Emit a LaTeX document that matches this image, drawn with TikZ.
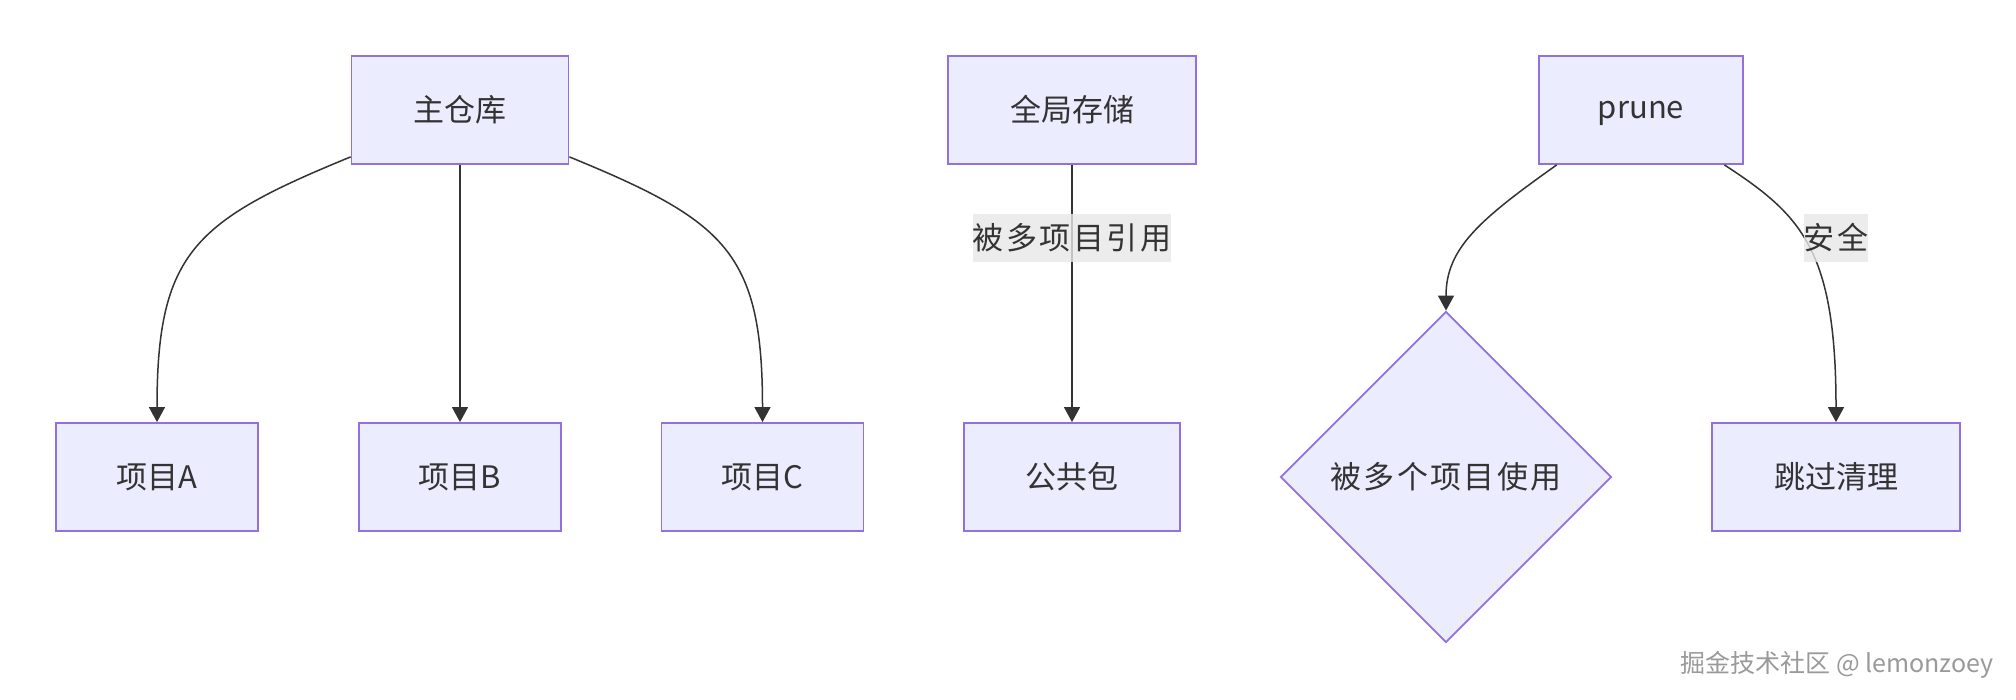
\documentclass[tikz,border=0pt]{standalone}
\usepackage{fontspec}
\setmainfont{Noto Sans CJK SC}
\newfontfamily\widecjk[LetterSpace=8]{Noto Sans CJK SC}
\usetikzlibrary{arrows.meta,shapes.geometric,calc}
\definecolor{nodefill}{HTML}{ECECFF}
\definecolor{nodeline}{HTML}{9370DB}
\definecolor{edgeline}{HTML}{333333}
\definecolor{lblfill}{HTML}{E8E8E8}
\definecolor{txt}{HTML}{333333}
\definecolor{wmark}{HTML}{9A9A9A}
\begin{document}
\begin{tikzpicture}[x=0.5pt,y=-0.5pt,
  box/.style={draw=nodeline, fill=nodefill, line width=0.9pt, minimum height=54pt,
    inner sep=0pt, text=txt, font=\fontsize{15.5pt}{18pt}\selectfont},
  decide/.style={diamond, aspect=1, draw=nodeline, fill=nodefill, line width=0.9pt,
    minimum width=165.5pt, minimum height=165.5pt, inner sep=0pt, text=txt,
    font=\fontsize{15.5pt}{18pt}\selectfont\widecjk},
  edge/.style={draw=edgeline, line width=0.75pt, -{Triangle[length=7.5pt,width=8pt]}},
  lbl/.style={fill=lblfill, fill opacity=0.8, text opacity=1, text=txt, inner sep=0pt,
    minimum height=24pt, font=\fontsize{15.5pt}{18pt}\selectfont\widecjk},
]
\useasboundingbox (0,0) rectangle (2016,700);
\fill[white] (0,0) rectangle (2016,700);

% nodes
\node[box, minimum width=108.5pt] (M) at (460,110) {主仓库};
\node[box, minimum width=101pt] (A) at (157,477) {项目A};
\node[box, minimum width=101pt] (B) at (460,477) {项目B};
\node[box, minimum width=101pt] (C) at (762.5,477) {项目C};
\node[box, minimum width=124pt] (G) at (1072,110) {全局存储};
\node[box, minimum width=108pt] (P) at (1072,477) {公共包};
\node[box, minimum width=102pt, text depth=0pt] (R) at (1641,110) {prune};
\node[decide] (D) at (1446,477) {被多个项目使用};
\node[box, minimum width=124pt] (S) at (1836,477) {跳过清理};

% edges
\draw[edge] ($(M.south west)+(0,-8)$) .. controls +(-156,64) and +(0,-170) .. (A.north);
\draw[edge] (M.south) -- (B.north);
\draw[edge] ($(M.south east)+(0,-8)$) .. controls +(156,64) and +(0,-170) .. (C.north);
\draw[edge] (G.south) -- (P.north);
\draw[edge] ($(R.south west)+(18.6,0)$) .. controls +(-77.6,55) and +(0,-62) .. (D.north);
\draw[edge] ($(R.south east)+(-19.5,0)$) .. controls +(76.5,50) and +(0,-173) .. (S.north);

% edge labels
\node[lbl, minimum width=96pt] (L1) at (1072,238) {被多项目引用};
\node[lbl, minimum width=32pt] (L2) at (1836,238) {安全};

% watermark
\node[anchor=west, inner sep=0pt, text=wmark, font=\fontsize{12.5pt}{15pt}\selectfont] (W) at (1680,665) {掘金技术社区 @ lemonzoey};
\end{tikzpicture}
\end{document}
